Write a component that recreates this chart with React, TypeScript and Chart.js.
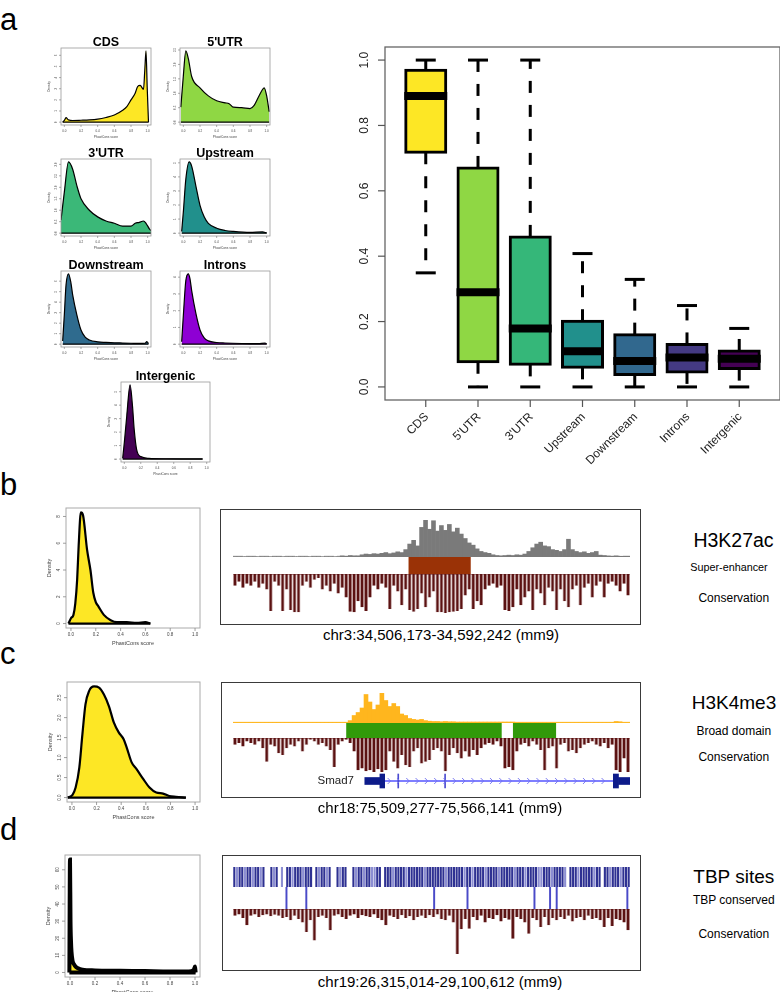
import React, { useEffect, useRef } from 'react';
import { Chart, registerables } from 'chart.js';

Chart.register(...registerables);
const FONT = '"Liberation Sans", Arial, Helvetica, sans-serif';
Chart.defaults.font.family = FONT;

// ---------------- DATA ----------------
// panel a: boxplot
const boxCategories = ["CDS", "5'UTR", "3'UTR", "Upstream", "Downstream", "Introns", "Intergenic"];
const boxWhiskerLow = [0.349, 0, 0, 0, 0, 0, 0];
const boxQ1 = [0.718, 0.077, 0.069, 0.06, 0.038, 0.046, 0.056];
const boxMedian = [0.89, 0.29, 0.179, 0.109, 0.079, 0.09, 0.086];
const boxQ3 = [0.969, 0.67, 0.459, 0.201, 0.16, 0.13, 0.11];
const boxWhiskerHigh = [1.0, 1.0, 1.0, 0.408, 0.329, 0.249, 0.179];
const boxTicks = [0, 0.2, 0.4, 0.6, 0.8, 1.0];
const boxTickLabels = ["0.0", "0.2", "0.4", "0.6", "0.8", "1.0"];

// panel a: densities (PhastCons score -> density)
const densXTicks = [0, 0.2, 0.4, 0.6, 0.8, 1.0];
const densXTickLabels = ["0.0", "0.2", "0.4", "0.6", "0.8", "1.0"];

const cdsX = [-0.02, 0.0, 0.02, 0.05, 0.1, 0.2, 0.3, 0.4, 0.5, 0.6, 0.7, 0.75, 0.8, 0.85, 0.88, 0.91, 0.95, 0.965, 0.98, 0.995, 1.01];
const cdsY = [0.0, 0.15, 0.4, 0.2, 0.15, 0.17, 0.2, 0.27, 0.42, 0.64, 1.07, 1.4, 2.0, 2.6, 3.2, 3.3, 2.95, 4.6, 6.4, 3.0, 0.0];
const cdsYTicks = [0, 1, 2, 3, 4, 5, 6];

const utr5X = [-0.03, 0.0, 0.03, 0.06, 0.1, 0.2, 0.3, 0.4, 0.5, 0.55, 0.6, 0.7, 0.8, 0.85, 0.9, 0.95, 0.97, 1.0, 1.03];
const utr5Y = [0.52, 1.6, 2.47, 2.2, 1.58, 1.19, 0.91, 0.74, 0.67, 0.64, 0.52, 0.5, 0.47, 0.58, 0.86, 1.13, 1.19, 0.91, 0.36];
const utr5YTicks = [0, 0.5, 1.0, 1.5, 2.0, 2.5];

const utr3X = [-0.04, 0.0, 0.05, 0.1, 0.15, 0.2, 0.3, 0.4, 0.5, 0.6, 0.7, 0.8, 0.85, 0.9, 0.95, 0.98, 1.02, 1.04];
const utr3Y = [0.57, 1.79, 3.11, 2.79, 2.07, 1.5, 1.0, 0.71, 0.53, 0.43, 0.31, 0.31, 0.43, 0.47, 0.53, 0.43, 0.19, 0.11];
const utr3YTicks = [0, 0.5, 1.0, 1.5, 2.0, 2.5, 3.0];

const upstreamX = [-0.02, 0.0, 0.03, 0.07, 0.1, 0.15, 0.2, 0.25, 0.3, 0.4, 0.5, 0.6, 0.8, 0.95, 1.0];
const upstreamY = [0.12, 1.5, 3.84, 5.07, 4.77, 3.37, 1.98, 1.16, 0.7, 0.35, 0.19, 0.12, 0.05, 0.09, 0.02];
const upstreamYTicks = [0, 1, 2, 3, 4, 5];

const downstreamX = [-0.02, 0.0, 0.02, 0.05, 0.08, 0.1, 0.15, 0.2, 0.25, 0.3, 0.4, 0.5, 0.6, 0.7, 0.8, 0.9, 0.97, 0.99, 1.01];
const downstreamY = [0.3, 2.8, 5.6, 6.7, 5.8, 4.7, 2.8, 1.35, 0.67, 0.4, 0.22, 0.17, 0.13, 0.11, 0.09, 0.07, 0.09, 0.25, 0.05];
const downstreamYTicks = [0, 1, 2, 3, 4, 5, 6];

const intronsX = [-0.02, 0.0, 0.03, 0.06, 0.08, 0.1, 0.15, 0.2, 0.25, 0.3, 0.4, 0.5, 0.7, 0.9, 0.98, 1.0];
const intronsY = [0.15, 1.7, 3.8, 4.2, 3.9, 3.2, 1.85, 0.85, 0.38, 0.2, 0.1, 0.07, 0.04, 0.03, 0.06, 0.02];
const intronsYTicks = [0, 1, 2, 3, 4];

const intergenicX = [-0.02, 0.0, 0.03, 0.07, 0.1, 0.12, 0.15, 0.2, 0.3, 0.5, 0.7, 0.95];
const intergenicY = [0.05, 1.2, 3.2, 5.5, 3.9, 2.2, 0.7, 0.18, 0.05, 0.02, 0.01, 0.01];
const intergenicYTicks = [0, 1, 2, 3, 4, 5];

// panels b, c, d densities
const superEnhDensX = [-0.02, 0.0, 0.02, 0.035, 0.05, 0.062, 0.08, 0.097, 0.13, 0.157, 0.18, 0.2, 0.22, 0.265, 0.32, 0.37, 0.45, 0.53, 0.6, 0.64];
const superEnhDensY = [0.0, 0.4, 0.65, 1.5, 3.3, 5.8, 8.3, 8.1, 5.5, 4.0, 2.3, 1.6, 1.3, 0.65, 0.25, 0.1, 0.1, 0.05, 0.1, 0.0];
const superEnhYTicks = [0, 2, 4, 6, 8];

const broadDensX = [-0.035, 0.005, 0.03, 0.06, 0.085, 0.11, 0.14, 0.18, 0.22, 0.26, 0.3, 0.34, 0.38, 0.42, 0.445, 0.485, 0.525, 0.58, 0.63, 0.685, 0.74, 0.79, 0.845, 0.925];
const broadDensY = [0.0, 0.07, 0.25, 0.75, 1.58, 2.33, 2.67, 2.78, 2.75, 2.58, 2.29, 1.88, 1.63, 1.46, 1.25, 0.88, 0.71, 0.46, 0.25, 0.125, 0.1, 0.04, 0.02, 0.0];
const broadYTicks = [0, 0.5, 1.0, 1.5, 2.0, 2.5];

const tbpDensX = [-0.005, 0.0, 0.004, 0.008, 0.012, 0.02, 0.03, 0.05, 0.08, 0.1, 0.2, 0.4, 0.6, 0.8, 0.95, 0.99, 1.0, 1.005];
const tbpDensY = [0, 66, 30, 18, 12, 7, 5, 3, 2, 1.6, 1.2, 1.0, 0.8, 0.6, 0.6, 1.5, 3.5, 0];
const tbpYTicks = [0, 10, 20, 30, 40, 50, 60];

// browser tracks (bins across each locus window)
const h3k27acSignal = [
  1, 1, 1, 1, 1, 1, 1, 1, 1, 1,
  1, 1, 1, 1, 1, 1, 1, 1, 1, 1,
  1, 1, 1, 1, 1, 1, 1, 3, 2, 4,
  3, 3, 6, 8, 7, 9, 8, 10, 12, 9,
  11, 14, 12, 20, 35, 45, 30, 80, 100, 75,
  98, 70, 85, 72, 88, 68, 78, 62, 50, 38,
  32, 22, 15, 12, 10, 6, 4, 3, 4, 5,
  4, 6, 5, 8, 15, 25, 35, 40, 30, 28,
  20, 18, 15, 20, 48, 20, 15, 12, 14, 10,
  12, 15, 5, 4, 3, 2, 3, 2, 2, 2,
];
const superEnhancer = [[44.3, 59.8]];
const consB = [
  30, 20, 35, 25, 30, 20, 35, 25, 40, 95,
  20, 30, 95, 40, 92, 98, 98, 30, 20, 35,
  15, 10, 40, 30, 45, 25, 50, 35, 60, 97,
  98, 70, 85, 95, 60, 30, 40, 25, 35, 90,
  30, 45, 80, 40, 92, 97, 90, 50, 85, 60,
  45, 98, 98, 100, 98, 97, 95, 90, 55, 40,
  90, 70, 80, 40, 30, 25, 35, 30, 92, 95,
  85, 40, 80, 60, 45, 92, 40, 50, 80, 35,
  45, 92, 40, 70, 85, 40, 30, 80, 35, 25,
  60, 30, 20, 60, 25, 20, 30, 45, 25, 55,
];

const h3k4me3Signal = [
  2, 2, 2, 2, 2, 2, 2, 2, 2, 2,
  2, 2, 2, 2, 2, 2, 2, 2, 2, 2,
  2, 2, 2, 2, 2, 2, 2, 2, 2, 8,
  25, 35, 50, 95, 70, 45, 60, 100, 75, 55,
  65, 55, 30, 25, 15, 12, 10, 12, 8, 6,
  5, 5, 4, 5, 4, 4, 3, 3, 3, 3,
  3, 3, 3, 3, 3, 3, 3, 3, 3, 3,
  3, 2, 2, 2, 2, 2, 2, 2, 2, 2,
  2, 2, 2, 2, 2, 2, 2, 2, 2, 2,
  2, 2, 2, 2, 2, 2, 5, 4, 2, 2,
];
const broadDomains = [[28.6, 67.6], [70.6, 81.3]];
const consC = [
  20, 15, 25, 10, 15, 20, 10, 30, 70, 20,
  25, 45, 50, 30, 20, 25, 10, 40, 20, 5,
  10, 20, 15, 25, 35, 85, 20, 10, 5, 15,
  40, 95, 90, 98, 95, 100, 92, 100, 95, 40,
  70, 90, 50, 80, 85, 40, 30, 75, 70, 65,
  35, 30, 40, 98, 50, 30, 45, 60, 40, 55,
  35, 50, 30, 20, 15, 20, 10, 25, 90, 85,
  95, 40, 20, 15, 25, 10, 20, 35, 95, 30,
  25, 90, 20, 15, 40, 35, 45, 30, 20, 15,
  10, 20, 25, 15, 30, 20, 95, 100, 60, 100,
];
const smad7Utr = [[33.2, 37.0], [97.1, 100]];
const smad7Cds = [[37.0, 38.2], [95.8, 97.1]];
const smad7SmallExons = [[41.5, 41.75], [53.3, 53.55]];
const smad7Intron = [38.2, 95.8];

const tbpSites = [
  2, 1, 2, 2, 1, 2, 2, 1, 2, 2, 1, 2, 0, 0, 2, 1, 2, 0, 1, 0,
  2, 2, 1, 2, 2, 2, 1, 2, 2, 2, 0, 2, 1, 2, 2, 1, 2, 0, 0, 2,
  1, 2, 2, 0, 0, 2, 1, 2, 2, 1, 2, 2, 1, 1, 2, 2, 0, 2, 2, 2,
  1, 2, 2, 2, 2, 1, 2, 2, 2, 2, 2, 2, 1, 2, 2, 2, 2, 2, 2, 2,
  1, 2, 2, 2, 2, 2, 2, 1, 2, 2, 1, 2, 2, 2, 2, 1, 2, 2, 2, 2,
  1, 2, 2, 2, 2, 2, 1, 2, 2, 2, 1, 2, 2, 2, 2, 1, 1, 2, 2, 2,
  1, 2, 2, 2, 2, 1, 0, 2, 2, 2, 1, 2, 2, 2, 2, 2, 1, 2, 2, 0,
  2, 2, 1, 2, 2, 2, 1, 2, 2, 2,
];
const tbpConserved = [20.2, 27.7, 76.0, 88.6, 113.9, 119.8, 122.3, 149.0];
const consD = [
  15, 12, 20, 36, 15, 12, 18, 14, 12, 16,
  13, 15, 20, 18, 25, 15, 22, 30, 51, 25,
  70, 18, 15, 20, 47, 15, 12, 18, 22, 15,
  12, 20, 14, 16, 18, 12, 20, 25, 36, 15,
  18, 22, 14, 20, 16, 25, 18, 15, 20, 14,
  18, 12, 22, 25, 15, 30, 100, 45, 22, 44,
  18, 25, 15, 30, 20, 22, 14, 28, 20, 24,
  66, 18, 22, 30, 55, 20, 25, 40, 18, 36,
  20, 25, 18, 22, 15, 28, 20, 18, 25, 15,
  22, 20, 25, 40, 20, 38, 22, 25, 30, 47,
];

// ---------------- STYLE ----------------
const boxColors = ['#FDE725', '#8FD744', '#35B779', '#21908C', '#31688E', '#443A83', '#440154'];
const CONS_COLOR = '#5b1212';

// ---------------- helpers ----------------
function baseOpts(padding: any, scales: any, extra: any = {}) {
  return {
    responsive: false,
    maintainAspectRatio: false,
    animation: false,
    events: [],
    layout: { padding },
    plugins: { legend: { display: false }, tooltip: { enabled: false }, title: { display: false } },
    scales,
    ...extra,
  };
}

function fmtTick(v: number, ticks: number[]) {
  const frac = ticks.some((t) => !Number.isInteger(t));
  return frac ? v.toFixed(1) : String(v);
}

type RAx = {
  boxColor: string; boxWidth: number; tickColor: string; tickLen: number; tickWidth: number;
  font: number; labelColor: string;
  xTicks: number[]; xLabels: string[]; xLabelDy: number; xRotate?: boolean; xLabelDx?: number;
  yTicks: number[]; yLabels: string[]; yLabelDx: number;
  xTitle?: string; xTitleDy?: number; yTitle?: string; yTitleDx?: number; titleFont?: number;
  main?: string; mainFont?: number; mainDy?: number;
};

function rAxes(o: RAx) {
  return {
    id: 'rAxes',
    afterDraw(chart: any) {
      const ctx: CanvasRenderingContext2D = chart.ctx;
      const a = chart.chartArea;
      const xs = chart.scales.x;
      const ys = chart.scales.y;
      ctx.save();
      ctx.strokeStyle = o.boxColor;
      ctx.lineWidth = o.boxWidth;
      ctx.strokeRect(a.left, a.top, a.right - a.left, a.bottom - a.top);
      ctx.strokeStyle = o.tickColor;
      ctx.lineWidth = o.tickWidth;
      ctx.fillStyle = o.labelColor;
      ctx.font = `${o.font}px ${FONT}`;
      o.xTicks.forEach((v, i) => {
        const px = xs.getPixelForValue(v);
        ctx.beginPath();
        ctx.moveTo(px, a.bottom);
        ctx.lineTo(px, a.bottom + o.tickLen);
        ctx.stroke();
        const lab = o.xLabels[i];
        if (o.xRotate) {
          ctx.save();
          ctx.translate(px + (o.xLabelDx || 0), a.bottom + o.xLabelDy);
          ctx.rotate(-Math.PI / 4);
          ctx.textAlign = 'right';
          ctx.textBaseline = 'middle';
          ctx.fillText(lab, 0, 0);
          ctx.restore();
        } else {
          ctx.textAlign = 'center';
          ctx.textBaseline = 'middle';
          ctx.fillText(lab, px, a.bottom + o.xLabelDy);
        }
      });
      o.yTicks.forEach((v, i) => {
        const py = ys.getPixelForValue(v);
        ctx.beginPath();
        ctx.moveTo(a.left, py);
        ctx.lineTo(a.left - o.tickLen, py);
        ctx.stroke();
        ctx.save();
        ctx.translate(a.left - o.yLabelDx, py);
        ctx.rotate(-Math.PI / 2);
        ctx.textAlign = 'center';
        ctx.textBaseline = 'middle';
        ctx.fillText(o.yLabels[i], 0, 0);
        ctx.restore();
      });
      if (o.xTitle) {
        ctx.font = `${o.titleFont}px ${FONT}`;
        ctx.textAlign = 'center';
        ctx.textBaseline = 'middle';
        ctx.fillText(o.xTitle, (a.left + a.right) / 2, a.bottom + (o.xTitleDy || 0));
      }
      if (o.yTitle) {
        ctx.font = `${o.titleFont}px ${FONT}`;
        ctx.save();
        ctx.translate(a.left - (o.yTitleDx || 0), (a.top + a.bottom) / 2);
        ctx.rotate(-Math.PI / 2);
        ctx.textAlign = 'center';
        ctx.textBaseline = 'middle';
        ctx.fillText(o.yTitle, 0, 0);
        ctx.restore();
      }
      if (o.main) {
        ctx.font = `bold ${o.mainFont}px ${FONT}`;
        ctx.fillStyle = '#000';
        ctx.textAlign = 'center';
        ctx.textBaseline = 'alphabetic';
        ctx.fillText(o.main, (a.left + a.right) / 2, a.top - (o.mainDy || 0));
      }
      ctx.restore();
    },
  };
}

function densityConfig(xs: number[], ys: number[], fill: string, lw: number, axes: RAx, pad: any) {
  const pts = xs.map((x, i) => ({ x, y: ys[i] }));
  const peak = Math.max(...ys);
  return {
    type: 'scatter',
    data: {
      datasets: [
        {
          data: pts, showLine: true, fill: 'origin', backgroundColor: fill, borderColor: '#000',
          borderWidth: lw, pointRadius: 0, cubicInterpolationMode: 'monotone', order: 1,
        },
        {
          data: [{ x: xs[0], y: 0 }, { x: xs[xs.length - 1], y: 0 }], showLine: true, fill: false,
          borderColor: '#000', borderWidth: lw, pointRadius: 0, order: 0,
        },
      ],
    },
    options: baseOpts(pad, {
      x: { type: 'linear', display: false, min: -0.04, max: 1.04 },
      y: { type: 'linear', display: false, min: -0.04 * peak, max: 1.04 * peak },
    }),
    plugins: [rAxes(axes)],
  };
}

function baselinePlugin(color: string, dash: number[], width: number) {
  return {
    id: 'baseline',
    beforeDatasetsDraw(chart: any) {
      const ctx: CanvasRenderingContext2D = chart.ctx;
      const a = chart.chartArea;
      const y = chart.scales.y;
      const py = y.getPixelForValue(0) + (y.options.reverse ? width / 2 : -width / 2);
      ctx.save();
      ctx.strokeStyle = color;
      ctx.lineWidth = width;
      ctx.setLineDash(dash);
      ctx.beginPath();
      ctx.moveTo(a.left, py);
      ctx.lineTo(a.right, py);
      ctx.stroke();
      ctx.restore();
    },
  };
}

function trackBars(values: number[], color: string | string[], reverse: boolean, barPct: number, base?: any, edge?: string) {
  return {
    type: 'bar',
    data: {
      labels: values.map((_, i) => String(i)),
      datasets: [{
        data: values, backgroundColor: color, barPercentage: barPct, categoryPercentage: 1,
        borderWidth: edge ? { left: 0.8, right: 0.8, top: 0, bottom: 0 } : 0,
        borderColor: edge || color, borderSkipped: false,
      }],
    },
    options: baseOpts(0, {
      x: { display: false },
      y: { display: false, min: 0, max: 100, reverse },
    }),
    plugins: base ? [base] : [],
  };
}

function domainConfig(ranges: number[][], color: string) {
  return {
    type: 'bar',
    data: {
      labels: ['d'],
      datasets: [{
        data: ranges.map((r) => ({ x: r, y: 'd' })), backgroundColor: color,
        barPercentage: 1, categoryPercentage: 1, borderWidth: 0, grouped: false,
      }],
    },
    options: baseOpts(0, {
      x: { type: 'linear', display: false, min: 0, max: 100 },
      y: { display: false },
    }, { indexAxis: 'y' }),
  };
}

function chevronPlugin(range: number[], color: string) {
  return {
    id: 'chevrons',
    afterDatasetsDraw(chart: any) {
      const ctx: CanvasRenderingContext2D = chart.ctx;
      const xs = chart.scales.x;
      const a = chart.chartArea;
      const cy = (a.top + a.bottom) / 2;
      const x0 = xs.getPixelForValue(range[0]);
      const x1 = xs.getPixelForValue(range[1]);
      ctx.save();
      ctx.strokeStyle = color;
      ctx.lineWidth = 0.9;
      for (let x = x0 + 5; x < x1 - 3; x += 9.3) {
        ctx.beginPath();
        ctx.moveTo(x - 2, cy - 3);
        ctx.lineTo(x + 1, cy);
        ctx.lineTo(x - 2, cy + 3);
        ctx.stroke();
      }
      ctx.restore();
    },
  };
}

function geneConfig() {
  const row = 'Smad7';
  const ds = (ranges: number[][], color: string, thick: number) => ({
    data: ranges.map((r) => ({ x: r, y: row })), backgroundColor: color, barThickness: thick,
    borderWidth: 0, grouped: false,
  });
  return {
    type: 'bar',
    data: {
      labels: [row],
      datasets: [
        ds(smad7Utr, '#0d1b8a', 7),
        ds(smad7Cds, '#0d1b8a', 14),
        ds(smad7SmallExons, '#4b4bd0', 14),
        ds([smad7Intron], '#7f7fff', 1.3),
      ],
    },
    options: baseOpts(0, {
      x: { type: 'linear', display: false, min: 0, max: 100 },
      y: { display: false },
    }, { indexAxis: 'y' }),
    plugins: [chevronPlugin(smad7Intron, '#7070f0')],
  };
}

function tbpSitesConfig() {
  return {
    type: 'bar',
    data: {
      labels: tbpSites.map((_, i) => String(i)),
      datasets: [{
        data: tbpSites.map((v) => (v > 0 ? 1 : 0)),
        backgroundColor: tbpSites.map((v) => (v === 2 ? '#2e3192' : '#8c8ed2')),
        barPercentage: 0.8, categoryPercentage: 1, borderWidth: 0,
      }],
    },
    options: baseOpts(0, { x: { display: false }, y: { display: false, min: 0, max: 1 } }),
  };
}

function tbpConservedConfig() {
  return {
    type: 'bar',
    data: {
      datasets: [{
        data: tbpConserved.map((p) => ({ x: p, y: 1 })), backgroundColor: '#4a4ac8',
        barThickness: 1.3, borderWidth: 0,
      }],
    },
    options: baseOpts(0, {
      x: { type: 'linear', display: false, min: 0, max: 150, offset: false },
      y: { display: false, min: 0, max: 1 },
    }),
  };
}

const boxExtras = {
  id: 'boxExtras',
  beforeDatasetsDraw(chart: any) {
    const ctx: CanvasRenderingContext2D = chart.ctx;
    const xs = chart.scales.x;
    const ys = chart.scales.y;
    const meta = chart.getDatasetMeta(0);
    ctx.save();
    ctx.strokeStyle = '#000';
    ctx.lineWidth = 3;
    ctx.lineCap = 'butt';
    const seg = (x0: number, y0: number, x1: number, y1: number) => {
      ctx.beginPath(); ctx.moveTo(x0, y0); ctx.lineTo(x1, y1); ctx.stroke();
    };
    ctx.setLineDash([12, 12]);
    boxCategories.forEach((_, i) => {
      const px = xs.getPixelForValue(i + 1);
      seg(px, ys.getPixelForValue(boxQ3[i]), px, ys.getPixelForValue(boxWhiskerHigh[i]));
      seg(px, ys.getPixelForValue(boxQ1[i]), px, ys.getPixelForValue(boxWhiskerLow[i]));
    });
    ctx.setLineDash([]);
    boxCategories.forEach((_, i) => {
      const px = xs.getPixelForValue(i + 1);
      const hw = meta.data[i].width / 4;
      seg(px - hw, ys.getPixelForValue(boxWhiskerHigh[i]), px + hw, ys.getPixelForValue(boxWhiskerHigh[i]));
      seg(px - hw, ys.getPixelForValue(boxWhiskerLow[i]), px + hw, ys.getPixelForValue(boxWhiskerLow[i]));
    });
    ctx.restore();
  },
  afterDatasetsDraw(chart: any) {
    const ctx: CanvasRenderingContext2D = chart.ctx;
    const xs = chart.scales.x;
    const ys = chart.scales.y;
    const meta = chart.getDatasetMeta(0);
    ctx.save();
    ctx.strokeStyle = '#000';
    ctx.lineWidth = 8;
    boxCategories.forEach((_, i) => {
      const px = xs.getPixelForValue(i + 1);
      const hw = meta.data[i].width / 2 + 1.5;
      const py = ys.getPixelForValue(boxMedian[i]);
      ctx.beginPath(); ctx.moveTo(px - hw, py); ctx.lineTo(px + hw, py); ctx.stroke();
    });
    ctx.restore();
  },
};

function boxplotConfig() {
  return {
    type: 'bar',
    data: {
      datasets: [{
        data: boxCategories.map((_, i) => ({ x: i + 1, y: [boxQ1[i], boxQ3[i]] })),
        backgroundColor: boxColors, borderColor: '#000', borderWidth: 3, borderSkipped: false,
        barThickness: 40, inflateAmount: 1.5,
      }],
    },
    options: baseOpts({ left: 105, top: 27, right: 0, bottom: 70 }, {
      x: { type: 'linear', display: false, min: 0.22, max: 7.78, offset: false },
      y: { type: 'linear', display: false, min: -0.04, max: 1.04 },
    }),
    plugins: [
      boxExtras,
      rAxes({
        boxColor: '#666', boxWidth: 1.3, tickColor: '#555', tickLen: 7, tickWidth: 1.2,
        font: 12, labelColor: '#222',
        xTicks: boxCategories.map((_, i) => i + 1), xLabels: boxCategories, xLabelDy: 15, xRotate: true, xLabelDx: 1,
        yTicks: boxTicks, yLabels: boxTickLabels, yLabelDx: 20,
      }),
    ],
  };
}

// ---------------- components ----------------
function ChartCanvas({ left, top, width, height, make }: { left: number; top: number; width: number; height: number; make: () => any }) {
  const ref = useRef<HTMLCanvasElement | null>(null);
  useEffect(() => {
    if (!ref.current) return;
    const chart = new Chart(ref.current, make() as any);
    return () => chart.destroy();
  }, []);
  return (
    <canvas ref={ref} width={width} height={height}
      style={{ position: 'absolute', left, top, width, height, display: 'block' }} />
  );
}

function Label({ x, y, size, text, align = 'center', weight = 400, color = '#000' }:
  { x: number; y: number; size: number; text: string; align?: string; weight?: number; color?: string }) {
  const tx = align === 'center' ? 'translateX(-50%)' : align === 'right' ? 'translateX(-100%)' : 'none';
  return (
    <div style={{
      position: 'absolute', left: x, top: y - 0.8465 * size, fontSize: size, lineHeight: `${size}px`,
      fontFamily: FONT, fontWeight: weight, color, whiteSpace: 'pre', transform: tx,
    }}>{text}</div>
  );
}

const smallPanels = [
  { title: 'CDS', xs: cdsX, ys: cdsY, yTicks: cdsYTicks, fill: '#FDE725', box: [61, 48, 151, 125] },
  { title: "5'UTR", xs: utr5X, ys: utr5Y, yTicks: utr5YTicks, fill: '#8FD744', box: [180, 48, 270, 125] },
  { title: "3'UTR", xs: utr3X, ys: utr3Y, yTicks: utr3YTicks, fill: '#3BB878', box: [61, 159, 151, 236] },
  { title: 'Upstream', xs: upstreamX, ys: upstreamY, yTicks: upstreamYTicks, fill: '#21908C', box: [180, 159, 270, 236] },
  { title: 'Downstream', xs: downstreamX, ys: downstreamY, yTicks: downstreamYTicks, fill: '#2F6B8E', box: [61, 271, 151, 347] },
  { title: 'Introns', xs: intronsX, ys: intronsY, yTicks: intronsYTicks, fill: '#8E00D4', box: [180, 271, 270, 347] },
  { title: 'Intergenic', xs: intergenicX, ys: intergenicY, yTicks: intergenicYTicks, fill: '#440154', box: [121, 382, 210, 462] },
];

const bigPanels = [
  { xs: superEnhDensX, ys: superEnhDensY, yTicks: superEnhYTicks, lw: 2.2, box: [66, 508, 200, 628] },
  { xs: broadDensX, ys: broadDensY, yTicks: broadYTicks, lw: 2.2, box: [67, 682, 200, 802] },
  { xs: tbpDensX, ys: tbpDensY, yTicks: tbpYTicks, lw: 4, box: [65, 855, 200, 977] },
];

export default function App() {
  const TL = 233;
  const TW = 397;
  return (
    <div style={{ position: 'absolute', left: 0, top: 0, width: 780, height: 992, overflow: 'hidden', background: '#fff' }}>
      <Label x={0} y={30} size={31} text="a" align="left" />
      <Label x={0} y={495} size={31} text="b" align="left" />
      <Label x={0} y={664} size={31} text="c" align="left" />
      <Label x={0} y={840} size={31} text="d" align="left" />

      {smallPanels.map((p) => {
        const [l, t, r, b] = p.box;
        return (
          <ChartCanvas key={p.title} left={l - 16} top={t - 18} width={r - l + 20} height={b - t + 38}
            make={() => densityConfig(p.xs, p.ys, p.fill, 1.2, {
              boxColor: '#999', boxWidth: 0.8, tickColor: '#777', tickLen: 2, tickWidth: 0.6,
              font: 3, labelColor: '#444',
              xTicks: densXTicks, xLabels: densXTickLabels, xLabelDy: 6.5,
              yTicks: p.yTicks, yLabels: p.yTicks.map((v) => fmtTick(v, p.yTicks)), yLabelDx: 5,
              xTitle: 'PhastCons score', xTitleDy: 12.5, yTitle: 'Density', yTitleDx: 12, titleFont: 3.2,
              main: p.title, mainFont: 12.5, mainDy: 2,
            }, { left: 16, top: 18, right: 4, bottom: 20 })} />
        );
      })}

      <ChartCanvas left={280} top={20} width={500} height={450} make={boxplotConfig} />

      {bigPanels.map((p, k) => {
        const [l, t, r, b] = p.box;
        return (
          <ChartCanvas key={'big' + k} left={l - 26} top={t - 4} width={r - l + 30} height={b - t + 28}
            make={() => densityConfig(p.xs, p.ys, '#FDE725', p.lw, {
              boxColor: '#aaa', boxWidth: 1, tickColor: '#888', tickLen: 3, tickWidth: 0.8,
              font: 4.5, labelColor: '#444',
              xTicks: densXTicks, xLabels: densXTickLabels, xLabelDy: 7,
              yTicks: p.yTicks, yLabels: p.yTicks.map((v) => fmtTick(v, p.yTicks)), yLabelDx: 7,
              xTitle: 'PhastCons score', xTitleDy: 15.5, yTitle: 'Density', yTitleDx: 17, titleFont: 5.5,
            }, { left: 26, top: 4, right: 4, bottom: 24 })} />
        );
      })}

      {/* panel b browser */}
      <div style={{ position: 'absolute', left: 220, top: 509, width: 421, height: 116, border: '1.5px solid #3a3a3a', boxSizing: 'border-box' }} />
      <ChartCanvas left={TL} top={520} width={TW} height={37} make={() => trackBars(h3k27acSignal, '#7a7a7a', false, 1, baselinePlugin('#b5b5b5', [10, 3], 1.2))} />
      <ChartCanvas left={TL} top={557} width={TW} height={17} make={() => domainConfig(superEnhancer, '#9a3206')} />
      <ChartCanvas left={TL} top={574} width={TW} height={39} make={() => trackBars(consB, CONS_COLOR, true, 0.95, baselinePlugin('#a07070', [], 1), '#a57878')} />
      <Label x={441} y={639.5} size={15} text="chr3:34,506,173-34,592,242 (mm9)" />
      <Label x={733.5} y={547.3} size={19.5} text="H3K27ac" />
      <Label x={729} y={571.6} size={10.8} text="Super-enhancer" />
      <Label x={733.8} y={602} size={12} text="Conservation" />

      {/* panel c browser */}
      <div style={{ position: 'absolute', left: 221, top: 682, width: 420, height: 116, border: '1.5px solid #3a3a3a', boxSizing: 'border-box' }} />
      <ChartCanvas left={TL} top={693} width={TW} height={30} make={() => trackBars(h3k4me3Signal, '#FFB61E', false, 1, baselinePlugin('#FFD88A', [], 1.2))} />
      <ChartCanvas left={TL} top={723} width={TW} height={15} make={() => domainConfig(broadDomains, '#319a0a')} />
      <ChartCanvas left={TL} top={738} width={TW} height={34} make={() => trackBars(consC, CONS_COLOR, true, 0.95, baselinePlugin('#a07070', [], 1), '#a57878')} />
      <ChartCanvas left={TL} top={773} width={TW} height={16} make={geneConfig} />
      <Label x={354} y={785} size={11.5} text="Smad7" align="right" color="#222" />
      <Label x={440} y={813} size={15} text="chr18:75,509,277-75,566,141 (mm9)" />
      <Label x={734} y={709.3} size={19} text="H3K4me3" />
      <Label x={733.8} y={735.3} size={12} text="Broad domain" />
      <Label x={733.8} y={761} size={12} text="Conservation" />

      {/* panel d browser */}
      <div style={{ position: 'absolute', left: 222, top: 855, width: 419, height: 116, border: '1.5px solid #3a3a3a', boxSizing: 'border-box' }} />
      <ChartCanvas left={TL} top={867} width={TW} height={20} make={tbpSitesConfig} />
      <ChartCanvas left={TL} top={887} width={TW} height={22} make={tbpConservedConfig} />
      <ChartCanvas left={TL} top={909} width={TW} height={45} make={() => trackBars(consD, CONS_COLOR, true, 0.95, baselinePlugin('#a07070', [], 1), '#a57878')} />
      <Label x={440} y={986.5} size={15} text="chr19:26,315,014-29,100,612 (mm9)" />
      <Label x={733.8} y={883.3} size={19} text="TBP sites" />
      <Label x={733.8} y={904.3} size={12} text="TBP conserved" />
      <Label x={733.8} y={938.3} size={12} text="Conservation" />
    </div>
  );
}
